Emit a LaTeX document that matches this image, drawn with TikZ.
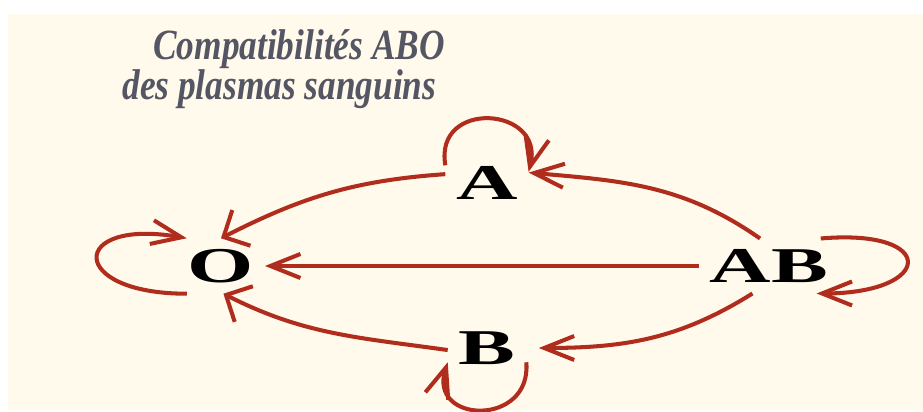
\documentclass[tikz,border=0pt]{standalone}
\usepackage{fontspec}
\setmainfont{Liberation Serif}
\usepackage{graphicx}
\usetikzlibrary{positioning,arrows.meta}

\definecolor{cream}{RGB}{255,250,236}
\definecolor{arrowred}{RGB}{176,44,28}
\definecolor{titlegray}{RGB}{85,86,100}
\newcommand{\grp}[1]{\scalebox{1.7}[1]{#1}}
\newcommand{\ttl}[1]{\scalebox{0.82}[1]{#1}}

\begin{document}
\begin{tikzpicture}[
		group/.style={inner sep=6pt, font=\fontsize{28.5}{30}\selectfont\bfseries},
		title/.style={anchor=base west, inner sep=0pt, titlegray, font=\fontsize{24.5}{25}\selectfont\bfseries\itshape},
		link/.style={->, line width=2.3pt, arrowred},
		wide/.style={-{Straight Barb[length=4mm,width=8mm]}},
		>={Straight Barb[length=6mm,width=4.8mm]}]
		\useasboundingbox (0, 0) rectangle (18.46, -8.24);
		\fill[cream] (0.16, -0.28) rectangle (18.46, -8.20);
		% title
		\node[title] (T1) at (3.06, -1.2) {\ttl{Compatibilités ABO}};
		\node[title] (T2) at (2.44, -2.0) {\ttl{des plasmas sanguins}};
		% groups
		\node[group] (O) at (4.42, -5.32) {\grp{O}};
		\node[group] (A) at (9.74, -3.66) {\grp{A}};
		\node[group] (B) at (9.74, -6.96) {\grp{B}};
		\node[group] (AB) at (15.38, -5.32) {\grp{AB}};
		% donors
		\draw[link, wide] (A.168) to[out=184, in=27] (O.north);
		\draw[link, wide] (B.183) to[out=172, in=-27] (O.-85);
		\draw[link] (AB.west) -- (O.east);
		\draw[link] (AB.108) to[out=145, in=-5] (A.14);
		\draw[link] (AB.239) to[out=212, in=0] ([xshift=0.25cm]B.east);
		% self
		\draw[link] (A.157) .. controls +(100:1.35) and +(76:1.35) .. (A.15);
		\draw[link] (O.219) .. controls +(180:2.4) and +(170:2.4) .. (O.141);
		\draw[link] (AB.28) .. controls +(5:2.36) and +(0:2.36) .. (AB.-30);
		\draw[link] (B.-20) .. controls +(-85:1.3) and +(-108:1.3) .. (B.200);
	\end{tikzpicture}
\end{document}
